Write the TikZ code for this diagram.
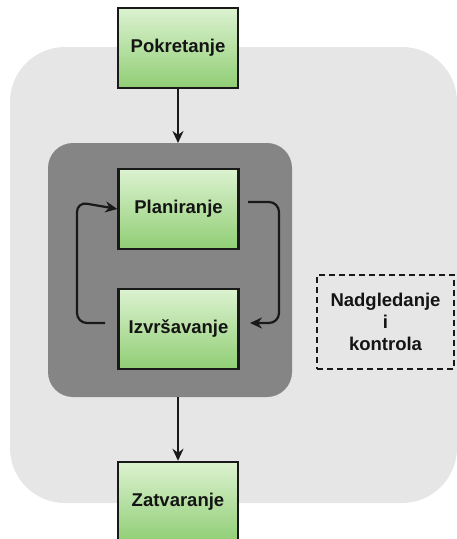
\documentclass[tikz,border=0pt]{standalone}
\usepackage{fontspec}
\setmainfont{Liberation Sans}
\usetikzlibrary{arrows.meta}
\definecolor{bggray}{HTML}{E6E6E6}
\definecolor{darkgray}{HTML}{858585}
\definecolor{greentop}{HTML}{DCF2D0}
\definecolor{greenbot}{HTML}{90CE75}
\definecolor{textdark}{HTML}{141414}
\tikzset{
  phase/.style={rectangle, draw=black!90, line width=2.4pt, minimum width=120pt, minimum height=80pt,
    inner sep=0pt, top color=greentop, bottom color=greenbot, font=\fontsize{18.5}{22}\selectfont\bfseries,
    text=textdark},
  flow/.style={draw=black!90, line width=2.2pt, -{Stealth[length=12pt,width=11pt]}},
  loopline/.style={draw=black!90, line width=2.2pt, rounded corners=10pt, -{Stealth[length=12pt,width=11pt]}},
  monitor/.style={rectangle, draw=black!90, line width=2pt, dash pattern=on 6pt off 4pt,
    minimum width=137pt, minimum height=94pt, inner sep=0pt, align=center,
    font=\fontsize{18.5}{22}\selectfont\bfseries, text=textdark}
}
\begin{document}
\begin{tikzpicture}[x=1pt,y=-1pt]
\useasboundingbox (0,0) rectangle (456,539);
% backgrounds
\fill[bggray, rounded corners=55pt] (10,47) rectangle (457,503);
\fill[darkgray, rounded corners=25pt] (48,143) rectangle (292,397);
\coordinate (innertop) at (178,143);
\coordinate (innerbot) at (178,397);
% nodes
\node[phase] (pok) at (178,48) {Pokretanje};
\node[phase] (plan) at (178.5,209) {Planiranje};
\node[phase] (izv) at (178.5,329) {Izvršavanje};
\node[phase] (zat) at (178,502) {Zatvaranje};
\node[monitor] (nad) at (385.5,322) {Nadgledanje\\i\\kontrola};
% connectors
\draw[flow] (pok.south) -- (innertop);
\draw[flow] (innerbot) -- (zat.north);
\coordinate (lstart) at (105,323);
\coordinate (rstart) at (248,202);
\coordinate (rend) at (250,323);
\draw[loopline] (lstart) -- (77,323) -- (77,202) -- (plan.west);
\draw[loopline] (rstart) -- (279,202) -- (279,323) -- (rend);
\end{tikzpicture}
\end{document}
